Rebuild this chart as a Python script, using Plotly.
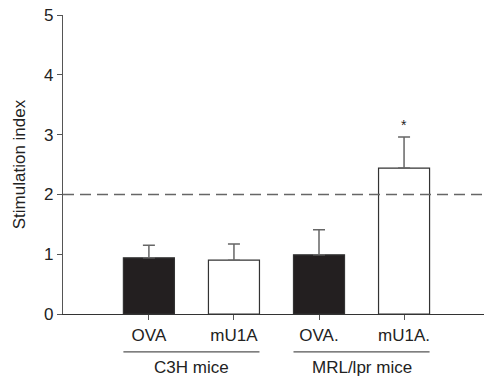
import plotly.graph_objects as go

categories = ["OVA", "mU1A", "OVA.", "mU1A."]
values = [0.94, 0.90, 0.99, 2.44]
errors = [0.21, 0.27, 0.42, 0.52]
fills = ["#231f20", "#ffffff", "#231f20", "#ffffff"]
groups = ["C3H mice", "MRL/lpr mice"]
group_members = [[0, 1], [2, 3]]
threshold = 2
significant = [False, False, False, True]
yticks = [0, 1, 2, 3, 4, 5]

xs = list(range(len(categories)))
fig = go.Figure()
fig.add_trace(go.Bar(
    x=xs, y=values, width=0.6,
    marker=dict(color=fills, line=dict(color="#333333", width=1.2)),
    error_y=dict(type="data", symmetric=False, array=errors,
                 arrayminus=[0] * len(errors), color="#666666",
                 thickness=1.5, width=6),
    showlegend=False,
))

fig.add_hline(y=threshold, line=dict(color="#666666", width=1.5, dash="11px,6px"))

for i, sig in enumerate(significant):
    if sig:
        fig.add_annotation(x=xs[i], y=values[i] + errors[i], text="*",
                           showarrow=False, yanchor="bottom", yshift=2,
                           font=dict(size=14, color="#222222"))

for g, mem in zip(groups, group_members):
    c = sum(mem) / len(mem)
    fig.add_shape(type="line", xref="x", yref="paper",
                  x0=c - 0.8, x1=c + 0.8, y0=-0.127, y1=-0.127,
                  line=dict(color="#555555", width=1.2))
    fig.add_annotation(x=c, y=-0.18, xref="x", yref="paper", text=g,
                       showarrow=False, yanchor="middle",
                       font=dict(size=17, color="#222222"))

fig.update_layout(
    width=484, height=378,
    margin=dict(l=63, r=0, t=15, b=64),
    plot_bgcolor="white", paper_bgcolor="white",
    font=dict(family="Liberation Sans, Arial, sans-serif", color="#222222"),
    bargap=0.4,
)
fig.update_xaxes(
    range=[-1.01, 3.94], tickvals=xs, ticktext=categories,
    showline=True, linecolor="#333333", linewidth=1.2,
    ticks="outside", ticklen=5, tickcolor="#555555",
    showgrid=False, zeroline=False, tickfont=dict(size=17),
)
fig.update_yaxes(
    range=[0, 5], tickvals=yticks,
    showline=True, linecolor="#555555", linewidth=1.2,
    ticks="outside", ticklen=5, tickcolor="#555555",
    showgrid=False, zeroline=False, tickfont=dict(size=17),
    title=dict(text="Stimulation index", font=dict(size=17), standoff=14),
)
fig.write_html("out.html", config={"displayModeBar": False},
               post_script="document.body.style.margin='0';")
